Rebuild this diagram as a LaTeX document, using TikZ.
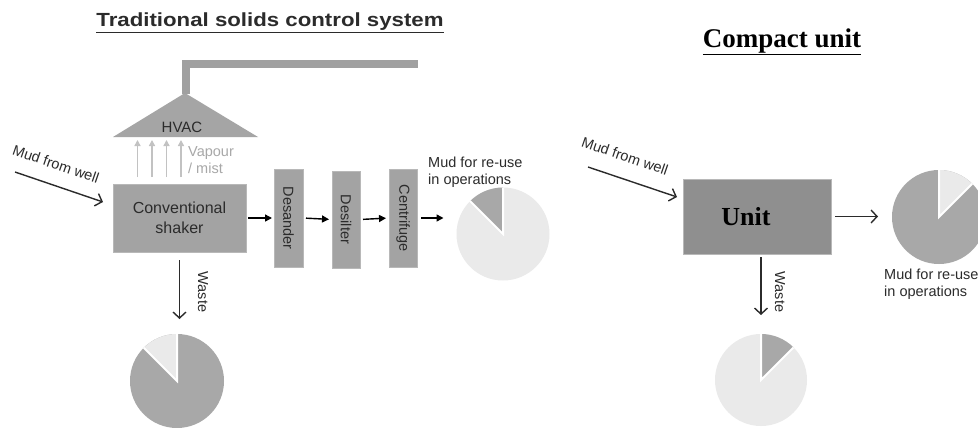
\documentclass[tikz,border=0pt]{standalone}
\usepackage{fontspec}
\setmainfont{Liberation Sans}
\newfontfamily\serifF{Liberation Serif}
\usetikzlibrary{arrows.meta,calc}
\newcommand\myfs[2]{\fontsize{#1bp}{#2bp}\selectfont}
\definecolor{boxgray}{HTML}{A3A3A3}
\definecolor{boxedge}{HTML}{B8B8B8}
\definecolor{unitgray}{HTML}{8F8F8F}
\definecolor{piedark}{HTML}{A8A8A8}
\definecolor{pielight}{HTML}{EAEAEA}
\definecolor{hvacgray}{HTML}{A5A5A5}
\definecolor{pipegray}{HTML}{A0A0A0}
\definecolor{vapgray}{HTML}{C2C2C2}
\definecolor{vaptext}{HTML}{A8A8A8}
\definecolor{txtdark}{HTML}{2B2B2B}
\tikzset{
  box/.style={fill=boxgray, draw=boxedge, line width=0.5bp, inner sep=0pt, outer sep=0pt, text=txtdark, font=\myfs{14.5}{17}},
  lbl/.style={inner sep=0pt, text=txtdark, font=\myfs{14.5}{17}},
  pie/.style={circle, inner sep=0pt, outer sep=0pt},
  sep/.style={white, line width=2bp},
  flow/.style={-{Triangle[length=7bp,width=7bp]}, line width=1.4bp, black},
  openarrow/.style={-{Straight Barb[length=6bp,width=13bp]}, line width=1.4bp, txtdark},
  vap/.style={-{Triangle[length=6bp,width=6bp]}, line width=1.6bp, vapgray},
  pipe/.style={line width=8bp, pipegray},
}
\begin{document}
\begin{tikzpicture}[x=1bp,y=1bp]
\useasboundingbox (0,0) rectangle (978,427);
\clip (0,0) rectangle (978,427);
\fill[white] (0,0) rectangle (978,427);

% titles
\node[anchor=base, inner sep=0pt, text=txtdark, font=\bfseries\myfs{19}{22}] (t1) at (270,400) {\scalebox{1.17}[1]{\underline{Traditional solids control system}}};
\node[anchor=base, inner sep=0pt, text=black, font=\serifF\bfseries\myfs{27}{30}] (t2) at (782,380) {\underline{Compact unit}};

% HVAC and pipe
\coordinate (hvactop) at (185.5,333);
\coordinate (pipeend) at (418,363);
\fill[hvacgray] (113,290) -- (185,334) -- (258,290) -- cycle;
\draw[pipe] (hvactop) |- (pipeend);
\node[lbl, font=\myfs{15}{17}] (hvac) at (182,299.5) {HVAC};

% traditional chain
\node[box, minimum width=133bp, minimum height=68bp, align=center, font=\myfs{16}{20}] (shaker) at (179.5,209) {Conventional\\shaker};
\node[box, rotate=-90, minimum width=98bp, minimum height=29bp] (desander) at (288.5,209) {Desander};
\node[box, rotate=-90, minimum width=97bp, minimum height=28bp] (desilter) at (346,207.5) {Desilter};
\node[box, rotate=-90, minimum width=98bp, minimum height=28bp] (centrifuge) at (403,209) {Centrifuge};

\foreach \dx in {-42,-27.5,-13,1.5}
  \draw[vap] ([xshift=\dx bp, yshift=7bp]shaker.north) -- ++(0,37);
\node[lbl, text=vaptext, align=left, anchor=west] (vapour) at (188,267) {Vapour\\/ mist};

\node[lbl, rotate=-19] (mud1) at (56,263) {Mud from well};
\coordinate (mudA) at (15,255);
\draw[openarrow] (mudA) -- ([shift={(-10,-18)}]shaker.north west);

\draw[flow, shorten <=2bp, shorten >=2bp] (shaker.east) -- (desander.south);
\draw[flow, shorten <=3bp, shorten >=3bp] (desander.north) -- (desilter.south);
\draw[flow, shorten <=3bp, shorten >=3bp] (desilter.north) -- (centrifuge.south);

% reuse pie (traditional)
\node[pie, minimum size=93bp, fill=pielight] (pieA) at (503,193) {};
\fill[piedark] (pieA.center) -- (pieA.north) arc[start angle=90, end angle=135, radius=46.5] -- cycle;
\draw[sep] (pieA.north) -- (pieA.center) -- (pieA.135);
\draw[flow, shorten <=4bp, shorten >=13bp] (centrifuge.north) -- (centrifuge.north -| pieA.west);
\node[lbl, align=left, anchor=north west] (reuseA) at (428,270) {Mud for re-use\\in operations};

% waste pie (traditional)
\node[pie, minimum size=94bp, fill=piedark] (pieB) at (177,46) {};
\fill[pielight] (pieB.center) -- (pieB.north) arc[start angle=90, end angle=135, radius=47] -- cycle;
\draw[sep] (pieB.north) -- (pieB.center) -- (pieB.135);
\draw[openarrow, shorten <=8bp, shorten >=15bp] (shaker.south) -- (shaker.south |- pieB.north);
\node[lbl, rotate=-90] (waste1) at (203,135) {Waste};

% compact unit
\node[box, fill=unitgray, minimum width=148bp, minimum height=75bp, text=black, font=\serifF\bfseries\myfs{26}{30}] (unit) at (757,210.5) {Unit\hspace*{22bp}};
\node[lbl, rotate=-19] (mud2) at (625,271) {Mud from well};
\coordinate (mudB) at (588,260);
\draw[openarrow] (mudB) -- ([shift={(-6,-18)}]unit.north west);

\node[pie, minimum size=94bp, fill=piedark] (pieD) at (939,210) {};
\fill[pielight] (pieD.center) -- (pieD.45) arc[start angle=45, end angle=90, radius=47] -- cycle;
\draw[sep] (pieD.45) -- (pieD.center) -- (pieD.north);
\draw[openarrow, shorten <=4bp, shorten >=14bp] (unit.east) -- (unit.east -| pieD.west);
\node[lbl, align=left, anchor=north west] (reuseD) at (884,158) {Mud for re-use\\in operations};

\node[pie, minimum size=92bp, fill=pielight] (pieC) at (761,47) {};
\fill[piedark] (pieC.center) -- (pieC.45) arc[start angle=45, end angle=90, radius=46] -- cycle;
\draw[sep] (pieC.45) -- (pieC.center) -- (pieC.north);
\draw[openarrow, shorten <=3bp, shorten >=19bp] (unit.south -| pieC.north) -- (pieC.north);
\node[lbl, rotate=-90] (waste2) at (780,135) {Waste};
\end{tikzpicture}
\end{document}
